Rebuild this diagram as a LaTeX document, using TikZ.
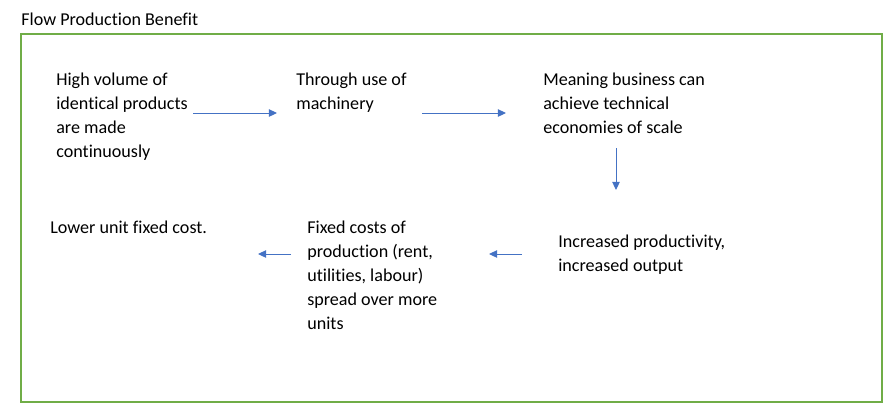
\documentclass[tikz,border=0pt]{standalone}
\usepackage{fontspec}
\setmainfont{Carlito}[Ligatures=NoCommon]
\usetikzlibrary{arrows.meta}
\definecolor{framegreen}{HTML}{70AD47}
\definecolor{arrowblue}{HTML}{4472C4}

\begin{document}
\begin{tikzpicture}[x=0.608pt,y=-0.608pt,
    boxtext/.style={anchor=base west, align=left, inner sep=0pt,
      font=\fontsize{11}{14.5}\selectfont},
    flow/.style={arrowblue, line width=0.6pt, -{Triangle[length=5pt,width=4.6pt]}}]
    \useasboundingbox (0,0) rectangle (891,418);

    % Heading and frame (base = last line)
    \node[boxtext] (title) at (21,25) {Flow Production Benefit};
    \draw[framegreen, line width=1.2pt] (21,34) rectangle (882,402);

    % Top row
    \node[boxtext] (volume) at (56,157) {High volume of\\identical products\\are made\\continuously};
    \node[boxtext] (machinery) at (296,109) {Through use of\\machinery};
    \node[boxtext] (economies) at (543,133) {Meaning business can\\achieve technical\\economies of scale};

    % Bottom row
    \node[boxtext] (productivity) at (558,271) {Increased productivity,\\increased output};
    \node[boxtext] (fixedcosts) at (307,329) {Fixed costs of\\production (rent,\\utilities, labour)\\spread over more\\units};
    \node[boxtext] (unitcost) at (50,233) {Lower unit fixed cost.};

    % Arrow ends
    \coordinate (va) at (193,113);
    \coordinate (vb) at (277,113);
    \coordinate (ma) at (422,113);
    \coordinate (mb) at (506,113);
    \coordinate (ea) at (616,148);
    \coordinate (eb) at (616,190);
    \coordinate (pa) at (522,254);
    \coordinate (pb) at (489,254);
    \coordinate (fa) at (291,254);
    \coordinate (fb) at (258,254);

    % Arrows
    \draw[flow] (va) -- (vb);
    \draw[flow] (ma) -- (mb);
    \draw[flow] (ea) -- (eb);
    \draw[flow] (pa) -- (pb);
    \draw[flow] (fa) -- (fb);
\end{tikzpicture}
\end{document}
